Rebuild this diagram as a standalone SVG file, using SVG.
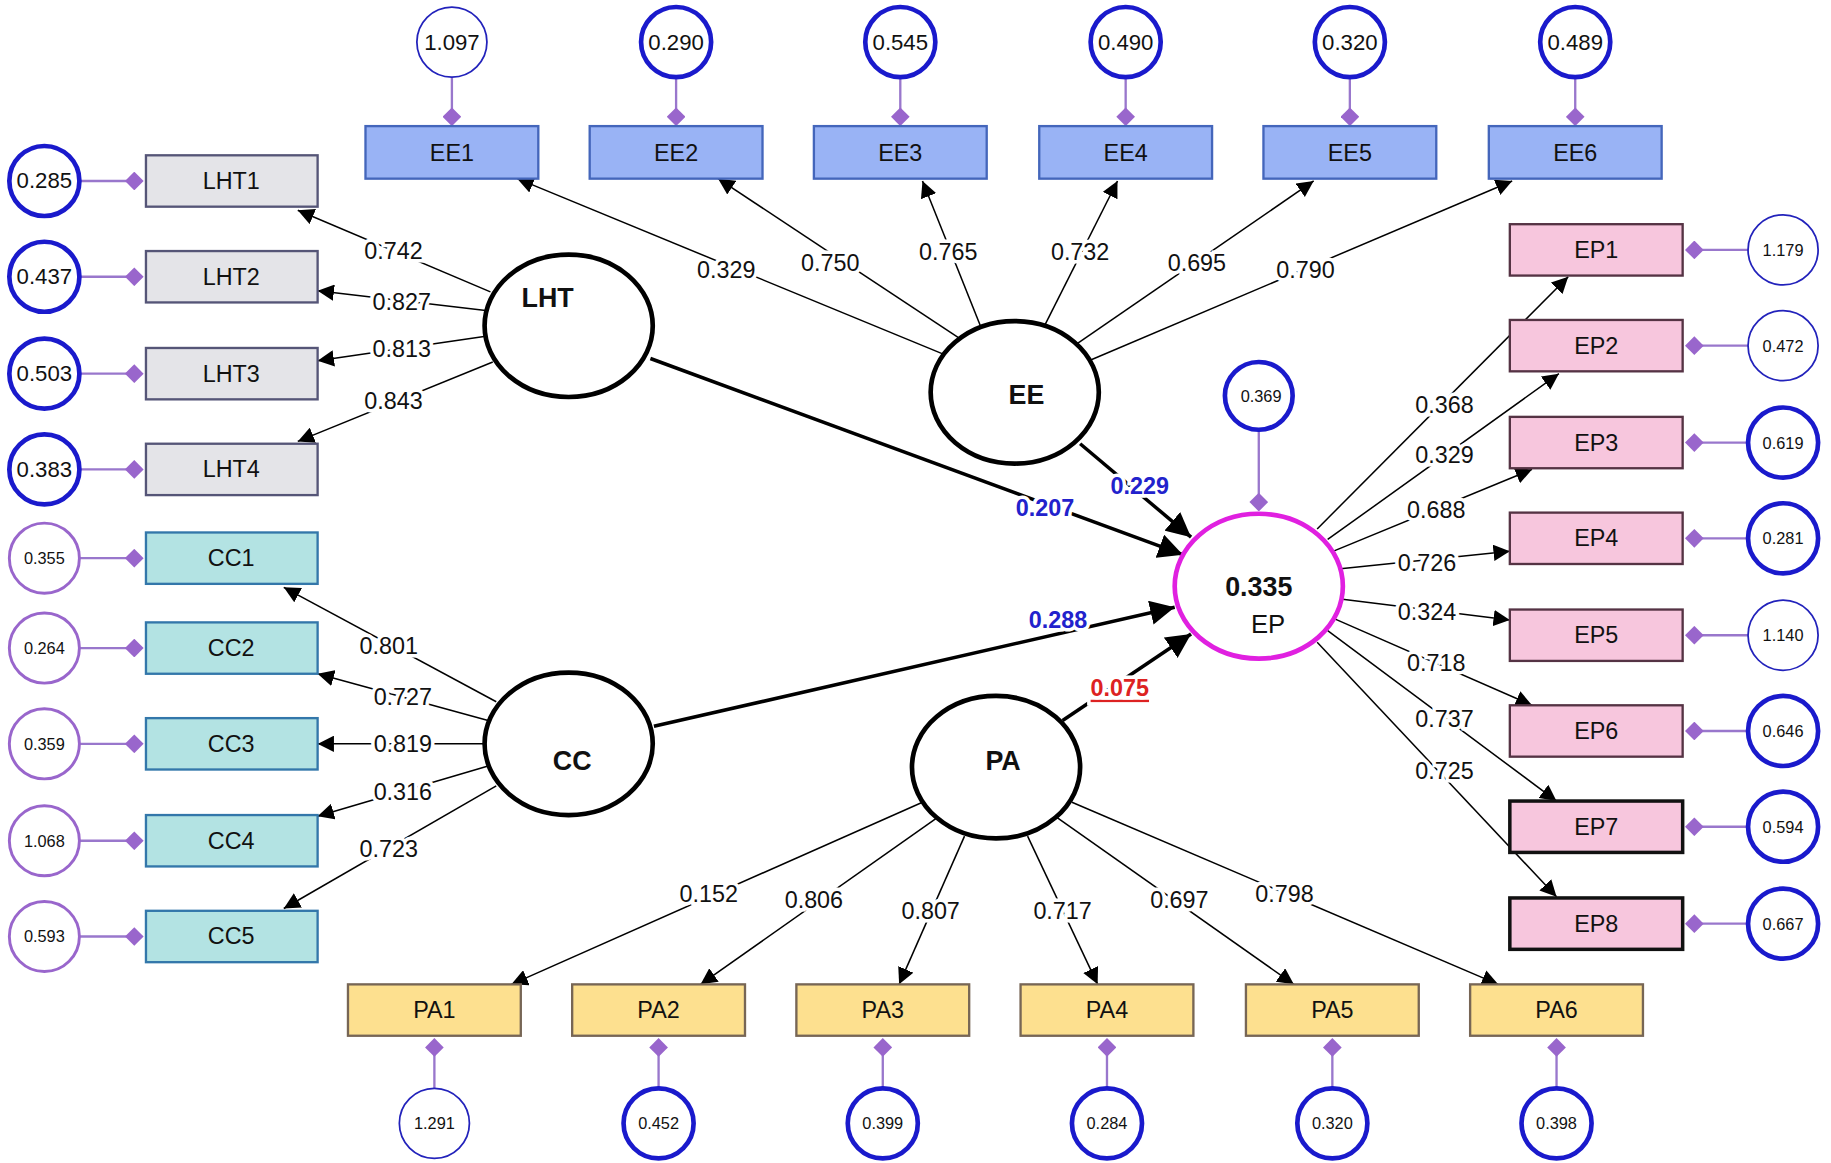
<svg xmlns="http://www.w3.org/2000/svg" width="1831" height="1163" viewBox="0 0 1831 1163">
<style>
text{font-family:"Liberation Sans",Arial,sans-serif;text-anchor:middle;dominant-baseline:central}
.box{stroke:#555577;stroke-width:2}
.ee{fill:#99b3f5;stroke:#4466bb}
.lht{fill:#e4e4e8}
.cc{fill:#b3e3e3;stroke:#3377aa}
.ep{fill:#f7c6dd;stroke:#553344}
.pa{fill:#fde08f;stroke:#776655}
.bl{font-size:20px;fill:#111}
.lv{fill:#fff;stroke:#000;stroke-width:4}
.lvt{font-size:23px;font-weight:bold;fill:#111}
.err{fill:#fff;stroke:#1a1acc;stroke-width:4}
.errt{fill:#fff;stroke:#2222bb;stroke-width:1.5}
.errp{fill:#fff;stroke:#9966cc;stroke-width:2.5}
.et{font-size:19px;fill:#111}
.es{font-size:14px;fill:#111}
.el{stroke:#9977cc;stroke-width:2}
.ld{stroke:#000;stroke-width:1.3;fill:none;marker-end:url(#ah)}
.pt{stroke:#000;stroke-width:3;fill:none;marker-end:url(#ahb)}
.lab{font-size:20px;fill:#111;paint-order:stroke;stroke:#fff;stroke-width:6px}
.pl{font-size:20px;font-weight:bold;fill:#2222cc;paint-order:stroke;stroke:#fff;stroke-width:6px}
</style>
<defs>
<marker id="ah" viewBox="0 0 10 10" refX="10" refY="5" markerWidth="14" markerHeight="14" markerUnits="userSpaceOnUse" orient="auto"><path d="M0,0L10,5L0,10z" fill="#000"/></marker>
<marker id="ahb" viewBox="0 0 10 10" refX="10" refY="5" markerWidth="7" markerHeight="7" orient="auto"><path d="M0,0L10,5L0,10z" fill="#000"/></marker>
<marker id="dm" viewBox="0 0 10 10" refX="5" refY="5" markerWidth="16" markerHeight="16" markerUnits="userSpaceOnUse" orient="auto"><path d="M0,5L5,0L10,5L5,10z" fill="#9966cc"/></marker>
</defs>
<g transform="scale(1.1677)">
<g id="connectors">
<!-- error links -->
<g class="el" marker-end="url(#dm)">
<line x1="387" y1="66" x2="387" y2="100"/><line x1="579" y1="66" x2="579" y2="100"/><line x1="771" y1="66" x2="771" y2="100"/><line x1="964" y1="66" x2="964" y2="100"/><line x1="1156" y1="66" x2="1156" y2="100"/><line x1="1349" y1="66" x2="1349" y2="100"/>
<line x1="68" y1="155" x2="115" y2="155"/><line x1="68" y1="237" x2="115" y2="237"/><line x1="68" y1="320" x2="115" y2="320"/><line x1="68" y1="402" x2="115" y2="402"/>
<line x1="68" y1="478" x2="115" y2="478"/><line x1="68" y1="555" x2="115" y2="555"/><line x1="68" y1="637" x2="115" y2="637"/><line x1="68" y1="720" x2="115" y2="720"/><line x1="68" y1="802" x2="115" y2="802"/>
<line x1="1497" y1="214" x2="1451" y2="214"/><line x1="1497" y1="296" x2="1451" y2="296"/><line x1="1497" y1="379" x2="1451" y2="379"/><line x1="1497" y1="461" x2="1451" y2="461"/><line x1="1497" y1="544" x2="1451" y2="544"/><line x1="1497" y1="626" x2="1451" y2="626"/><line x1="1497" y1="708" x2="1451" y2="708"/><line x1="1497" y1="791" x2="1451" y2="791"/>
<line x1="372" y1="932" x2="372" y2="897"/><line x1="564" y1="932" x2="564" y2="897"/><line x1="756" y1="932" x2="756" y2="897"/><line x1="948" y1="932" x2="948" y2="897"/><line x1="1141" y1="932" x2="1141" y2="897"/><line x1="1333" y1="932" x2="1333" y2="897"/>
<line x1="1078" y1="369" x2="1078" y2="430"/>
</g>
<!-- loadings -->
<line class="ld" x1="420" y1="250" x2="255" y2="180"/>
<line class="ld" x1="416" y1="266" x2="272" y2="249"/>
<line class="ld" x1="416" y1="288" x2="272" y2="309"/>
<line class="ld" x1="422" y1="310" x2="255" y2="378"/>
<line class="ld" x1="812" y1="305" x2="443" y2="153"/>
<line class="ld" x1="825" y1="292" x2="615" y2="153"/>
<line class="ld" x1="840" y1="280" x2="790" y2="155"/>
<line class="ld" x1="895" y1="278" x2="957" y2="155"/>
<line class="ld" x1="920" y1="296" x2="1125" y2="155"/>
<line class="ld" x1="930" y1="310" x2="1295" y2="155"/>
<line class="ld" x1="1128" y1="453" x2="1343" y2="237"/>
<line class="ld" x1="1137" y1="462" x2="1335" y2="320"/>
<line class="ld" x1="1142" y1="472" x2="1312" y2="402"/>
<line class="ld" x1="1148" y1="487" x2="1293" y2="472"/>
<line class="ld" x1="1148" y1="513" x2="1293" y2="531"/>
<line class="ld" x1="1143" y1="530" x2="1312" y2="604"/>
<line class="ld" x1="1137" y1="540" x2="1333" y2="686"/>
<line class="ld" x1="1128" y1="550" x2="1333" y2="768"/>
<line class="ld" x1="425" y1="601" x2="243" y2="503"/>
<line class="ld" x1="418" y1="617" x2="272" y2="577"/>
<line class="ld" x1="415" y1="637" x2="272" y2="637"/>
<line class="ld" x1="418" y1="656" x2="272" y2="699"/>
<line class="ld" x1="425" y1="673" x2="243" y2="778"/>
<line class="ld" x1="790" y1="687" x2="438" y2="843"/>
<line class="ld" x1="803" y1="700" x2="600" y2="843"/>
<line class="ld" x1="826" y1="716" x2="770" y2="843"/>
<line class="ld" x1="880" y1="716" x2="940" y2="843"/>
<line class="ld" x1="905" y1="700" x2="1108" y2="843"/>
<line class="ld" x1="918" y1="687" x2="1283" y2="843"/>
<!-- structural paths -->
<line class="pt" x1="557" y1="307" x2="1013" y2="475"/>
<line class="pt" x1="925" y1="380" x2="1020" y2="460"/>
<line class="pt" x1="560" y1="622" x2="1006" y2="520"/>
<line class="pt" x1="910" y1="617" x2="1020" y2="543"/>
<!-- labels -->
<text class="lab" x="337" y="215">0.742</text><text class="lab" x="344" y="259">0.827</text><text class="lab" x="344" y="299">0.813</text><text class="lab" x="337" y="343">0.843</text>
<text class="lab" x="622" y="231">0.329</text><text class="lab" x="711" y="225">0.750</text><text class="lab" x="812" y="216">0.765</text><text class="lab" x="925" y="216">0.732</text><text class="lab" x="1025" y="225">0.695</text><text class="lab" x="1118" y="231">0.790</text>
<text class="lab" x="1237" y="347">0.368</text><text class="lab" x="1237" y="390">0.329</text><text class="lab" x="1230" y="437">0.688</text><text class="lab" x="1222" y="482">0.726</text><text class="lab" x="1222" y="524">0.324</text><text class="lab" x="1230" y="568">0.718</text><text class="lab" x="1237" y="616">0.737</text><text class="lab" x="1237" y="660">0.725</text>
<text class="lab" x="333" y="553">0.801</text><text class="lab" x="345" y="597">0.727</text><text class="lab" x="345" y="637">0.819</text><text class="lab" x="345" y="678">0.316</text><text class="lab" x="333" y="727">0.723</text>
<text class="lab" x="607" y="766">0.152</text><text class="lab" x="697" y="771">0.806</text><text class="lab" x="797" y="780">0.807</text><text class="lab" x="910" y="780">0.717</text><text class="lab" x="1010" y="771">0.697</text><text class="lab" x="1100" y="766">0.798</text>
<text class="pl" x="895" y="435">0.207</text>
<text class="pl" x="976" y="416">0.229</text>
<text class="pl" x="906" y="531">0.288</text>
<text class="pl" x="959" y="589" style="fill:#dd2222;text-decoration:underline">0.075</text>
</g>
<!-- latents -->
<g id="LHT"><ellipse class="lv" cx="487" cy="279" rx="72" ry="61"/><text class="lvt" x="469" y="255">LHT</text></g>
<g id="EE"><ellipse class="lv" cx="869" cy="336" rx="72" ry="61"/><text class="lvt" x="879" y="338">EE</text></g>
<g id="CC"><ellipse class="lv" cx="487" cy="637" rx="72" ry="61"/><text class="lvt" x="490" y="652">CC</text></g>
<g id="PA"><ellipse class="lv" cx="853" cy="657" rx="72" ry="61"/><text class="lvt" x="859" y="652">PA</text></g>
<g id="EP"><ellipse cx="1078" cy="502" rx="72" ry="62" fill="#fff" stroke="#e020e0" stroke-width="4"/><text class="lvt" x="1078" y="503">0.335</text><text x="1086" y="534" style="font-size:22px;fill:#111">EP</text>
<circle class="err" cx="1078" cy="339" r="29"/><text class="es" x="1080" y="339">0.369</text></g>
<!-- EE indicators -->
<g id="EE1"><rect class="box ee" x="313" y="108" width="148" height="45"/><text class="bl" x="387" y="131">EE1</text><circle class="errt" cx="387" cy="36" r="30"/><text class="et" x="387" y="36">1.097</text></g>
<g id="EE2"><rect class="box ee" x="505" y="108" width="148" height="45"/><text class="bl" x="579" y="131">EE2</text><circle class="err" cx="579" cy="36" r="30"/><text class="et" x="579" y="36">0.290</text></g>
<g id="EE3"><rect class="box ee" x="697" y="108" width="148" height="45"/><text class="bl" x="771" y="131">EE3</text><circle class="err" cx="771" cy="36" r="30"/><text class="et" x="771" y="36">0.545</text></g>
<g id="EE4"><rect class="box ee" x="890" y="108" width="148" height="45"/><text class="bl" x="964" y="131">EE4</text><circle class="err" cx="964" cy="36" r="30"/><text class="et" x="964" y="36">0.490</text></g>
<g id="EE5"><rect class="box ee" x="1082" y="108" width="148" height="45"/><text class="bl" x="1156" y="131">EE5</text><circle class="err" cx="1156" cy="36" r="30"/><text class="et" x="1156" y="36">0.320</text></g>
<g id="EE6"><rect class="box ee" x="1275" y="108" width="148" height="45"/><text class="bl" x="1349" y="131">EE6</text><circle class="err" cx="1349" cy="36" r="30"/><text class="et" x="1349" y="36">0.489</text></g>
<!-- LHT indicators -->
<g id="LHT1"><rect class="box lht" x="125" y="133" width="147" height="44"/><text class="bl" x="198" y="155">LHT1</text><circle class="err" cx="38" cy="155" r="30"/><text class="et" x="38" y="155">0.285</text></g>
<g id="LHT2"><rect class="box lht" x="125" y="215" width="147" height="44"/><text class="bl" x="198" y="237">LHT2</text><circle class="err" cx="38" cy="237" r="30"/><text class="et" x="38" y="237">0.437</text></g>
<g id="LHT3"><rect class="box lht" x="125" y="298" width="147" height="44"/><text class="bl" x="198" y="320">LHT3</text><circle class="err" cx="38" cy="320" r="30"/><text class="et" x="38" y="320">0.503</text></g>
<g id="LHT4"><rect class="box lht" x="125" y="380" width="147" height="44"/><text class="bl" x="198" y="402">LHT4</text><circle class="err" cx="38" cy="402" r="30"/><text class="et" x="38" y="402">0.383</text></g>
<!-- CC indicators -->
<g id="CC1"><rect class="box cc" x="125" y="456" width="147" height="44"/><text class="bl" x="198" y="478">CC1</text><circle class="errp" cx="38" cy="478" r="30"/><text class="es" x="38" y="478">0.355</text></g>
<g id="CC2"><rect class="box cc" x="125" y="533" width="147" height="44"/><text class="bl" x="198" y="555">CC2</text><circle class="errp" cx="38" cy="555" r="30"/><text class="es" x="38" y="555">0.264</text></g>
<g id="CC3"><rect class="box cc" x="125" y="615" width="147" height="44"/><text class="bl" x="198" y="637">CC3</text><circle class="errp" cx="38" cy="637" r="30"/><text class="es" x="38" y="637">0.359</text></g>
<g id="CC4"><rect class="box cc" x="125" y="698" width="147" height="44"/><text class="bl" x="198" y="720">CC4</text><circle class="errp" cx="38" cy="720" r="30"/><text class="es" x="38" y="720">1.068</text></g>
<g id="CC5"><rect class="box cc" x="125" y="780" width="147" height="44"/><text class="bl" x="198" y="802">CC5</text><circle class="errp" cx="38" cy="802" r="30"/><text class="es" x="38" y="802">0.593</text></g>
<!-- EP indicators -->
<g id="EP1"><rect class="box ep" x="1293" y="192" width="148" height="44"/><text class="bl" x="1367" y="214">EP1</text><circle class="errt" cx="1527" cy="214" r="30"/><text class="es" x="1527" y="214">1.179</text></g>
<g id="EP2"><rect class="box ep" x="1293" y="274" width="148" height="44"/><text class="bl" x="1367" y="296">EP2</text><circle class="errt" cx="1527" cy="296" r="30"/><text class="es" x="1527" y="296">0.472</text></g>
<g id="EP3"><rect class="box ep" x="1293" y="357" width="148" height="44"/><text class="bl" x="1367" y="379">EP3</text><circle class="err" cx="1527" cy="379" r="30"/><text class="es" x="1527" y="379">0.619</text></g>
<g id="EP4"><rect class="box ep" x="1293" y="439" width="148" height="44"/><text class="bl" x="1367" y="461">EP4</text><circle class="err" cx="1527" cy="461" r="30"/><text class="es" x="1527" y="461">0.281</text></g>
<g id="EP5"><rect class="box ep" x="1293" y="522" width="148" height="44"/><text class="bl" x="1367" y="544">EP5</text><circle class="errt" cx="1527" cy="544" r="30"/><text class="es" x="1527" y="544">1.140</text></g>
<g id="EP6"><rect class="box ep" x="1293" y="604" width="148" height="44"/><text class="bl" x="1367" y="626">EP6</text><circle class="err" cx="1527" cy="626" r="30"/><text class="es" x="1527" y="626">0.646</text></g>
<g id="EP7"><rect class="box ep" x="1293" y="686" width="148" height="44" style="stroke:#111;stroke-width:3"/><text class="bl" x="1367" y="708">EP7</text><circle class="err" cx="1527" cy="708" r="30"/><text class="es" x="1527" y="708">0.594</text></g>
<g id="EP8"><rect class="box ep" x="1293" y="769" width="148" height="44" style="stroke:#111;stroke-width:3"/><text class="bl" x="1367" y="791">EP8</text><circle class="err" cx="1527" cy="791" r="30"/><text class="es" x="1527" y="791">0.667</text></g>
<!-- PA indicators -->
<g id="PA1"><rect class="box pa" x="298" y="843" width="148" height="44"/><text class="bl" x="372" y="865">PA1</text><circle class="errt" cx="372" cy="962" r="30"/><text class="es" x="372" y="962">1.291</text></g>
<g id="PA2"><rect class="box pa" x="490" y="843" width="148" height="44"/><text class="bl" x="564" y="865">PA2</text><circle class="err" cx="564" cy="962" r="30"/><text class="es" x="564" y="962">0.452</text></g>
<g id="PA3"><rect class="box pa" x="682" y="843" width="148" height="44"/><text class="bl" x="756" y="865">PA3</text><circle class="err" cx="756" cy="962" r="30"/><text class="es" x="756" y="962">0.399</text></g>
<g id="PA4"><rect class="box pa" x="874" y="843" width="148" height="44"/><text class="bl" x="948" y="865">PA4</text><circle class="err" cx="948" cy="962" r="30"/><text class="es" x="948" y="962">0.284</text></g>
<g id="PA5"><rect class="box pa" x="1067" y="843" width="148" height="44"/><text class="bl" x="1141" y="865">PA5</text><circle class="err" cx="1141" cy="962" r="30"/><text class="es" x="1141" y="962">0.320</text></g>
<g id="PA6"><rect class="box pa" x="1259" y="843" width="148" height="44"/><text class="bl" x="1333" y="865">PA6</text><circle class="err" cx="1333" cy="962" r="30"/><text class="es" x="1333" y="962">0.398</text></g>
</g>
</svg>
